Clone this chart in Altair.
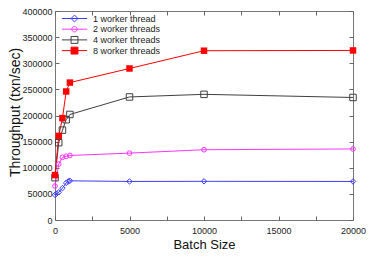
import math
import altair as alt
import pandas as pd

series_names = ["1 worker thread", "2 worker threads", "4 worker threads", "8 worker threads"]
series_colors = ["#3d3dff", "#ff33ff", "#404040", "#ff0000"]

b1 = [1, 100, 250, 500, 750, 900, 1000, 5000, 10000, 20000]
t1 = [48000, 50500, 53000, 61000, 71000, 74000, 75000, 73800, 74000, 73800]
b2 = [1, 250, 500, 750, 1000, 5000, 10000, 20000]
t2 = [65000, 107000, 120000, 122000, 123500, 128000, 134500, 136000]
b4 = [1, 250, 500, 750, 1000, 5000, 10000, 20000]
t4 = [81000, 148000, 172000, 192000, 202000, 235500, 240500, 234500]
b8 = [1, 250, 500, 750, 1000, 5000, 10000, 20000]
t8 = [86000, 161000, 195000, 246000, 263000, 290000, 324000, 324500]

x_label_values = [0, 5000, 10000, 15000, 20000]
x_tick_values = [0, 2500, 5000, 7500, 10000, 12500, 15000, 17500, 20000]
y_tick_values = [0, 50000, 100000, 150000, 200000, 250000, 300000, 350000, 400000]

rows = []
for name, bs, ts in zip(series_names, [b1, b2, b4, b8], [t1, t2, t4, t8]):
    for b, t in zip(bs, ts):
        rows.append({"series": name, "batch": b, "tput": t})
df = pd.DataFrame(rows)

FONT = "Liberation Sans"
W, H = 298, 209


# legend symbols: a short line with the marker in the middle.
# Hollow markers are drawn as separate zero-area segments so that the
# legend's fill does not fill them; the red square is a closed (filled) square.
def segs(pts):
    out = []
    for i in range(len(pts)):
        a, b = pts[i], pts[(i + 1) % len(pts)]
        out.append("M%.3f,%.3fL%.3f,%.3f" % (a[0], a[1], b[0], b[1]))
    return "".join(out)


LINE = "M-4.2,0L4.2,0"
diamond_pts = [(0, -1.15), (1.15, 0), (0, 1.15), (-1.15, 0)]
square_pts = [(-1.15, -1.15), (1.15, -1.15), (1.15, 1.15), (-1.15, 1.15)]
circle_pts = [(0.9 * math.cos(k * math.pi / 8), 0.9 * math.sin(k * math.pi / 8)) for k in range(16)]

legend_paths = [
    LINE + segs(diamond_pts),
    LINE + segs(circle_pts),
    LINE + segs(square_pts),
    LINE + "M-1.15,-1.15L1.15,-1.15L1.15,1.15L-1.15,1.15Z",
]
legend_fills = ["rgba(255,255,255,0)", "rgba(255,255,255,0)", "rgba(255,255,255,0)", "#ff0000"]

xscale = alt.Scale(domain=[0, 20000], nice=False, zero=False)
yscale = alt.Scale(domain=[0, 400000], nice=False)
cscale = alt.Scale(domain=series_names, range=series_colors)

base = alt.Chart(df)

main_x = alt.Axis(orient="bottom", values=x_label_values, format="d", title="Batch Size",
                  ticks=False, domain=False, grid=False, labelFlush=False, labelOverlap=False,
                  labelPadding=6, titleY=28, titleBaseline="alphabetic", titleFontSize=13)
main_y = alt.Axis(orient="left", values=y_tick_values, format="d", title="Throughput (txn/sec)",
                  ticks=False, domain=False, grid=False, labelPadding=3, labelOverlap=False,
                  titleX=-40, titleY=101, titleBaseline="middle", titleFontSize=14)

top_ticks = alt.Axis(orient="bottom", offset=-H, values=x_tick_values, labels=False, title=None,
                     domain=False, grid=False, tickSize=4)
bottom_ticks = alt.Axis(orient="top", offset=-H, values=x_tick_values, labels=False, title=None,
                        domain=False, grid=False, tickSize=4)
left_ticks = alt.Axis(orient="right", offset=-W, values=y_tick_values, labels=False, title=None,
                      domain=False, grid=False, tickSize=4)
right_ticks = alt.Axis(orient="left", offset=-W, values=y_tick_values, labels=False, title=None,
                       domain=False, grid=False, tickSize=4)


def leg():
    return alt.Legend(title=None, orient="none", legendX=15, legendY=3, padding=0,
                      symbolSize=36, symbolStrokeWidth=1, symbolOpacity=1,
                      symbolFillColor="transparent",
                      labelFont=FONT, labelFontSize=9, labelColor="#222222",
                      labelOffset=14, rowPadding=-0.3)


# invisible layer that only carries the legend (line + marker samples)
legend_layer = base.mark_point(opacity=0, filled=False).encode(
    x=alt.X("batch:Q", scale=xscale, axis=top_ticks),
    y=alt.Y("tput:Q", scale=yscale, axis=right_ticks),
    color=alt.Color("series:N", scale=cscale, legend=leg()),
    shape=alt.Shape("series:N", scale=alt.Scale(domain=series_names, range=legend_paths),
                    legend=leg()),
    fill=alt.Fill("series:N", scale=alt.Scale(domain=series_names, range=legend_fills),
                  legend=leg()),
)

lines = base.mark_line(strokeWidth=1).encode(
    x=alt.X("batch:Q", scale=xscale, axis=main_x),
    y=alt.Y("tput:Q", scale=yscale, axis=main_y),
    color=alt.Color("series:N", scale=cscale, legend=None),
    detail="series:N",
)


def pts(name, shape, size, filled, xaxis=None, yaxis=None):
    return base.transform_filter(alt.datum.series == name).mark_point(
        shape=shape, size=size, filled=filled, opacity=1, strokeWidth=1
    ).encode(
        x=alt.X("batch:Q", scale=xscale, axis=xaxis),
        y=alt.Y("tput:Q", scale=yscale, axis=yaxis),
        color=alt.Color("series:N", scale=cscale, legend=None),
    )


p1 = pts(series_names[0], "diamond", 30, False, bottom_ticks, left_ticks)
p2 = pts(series_names[1], "circle", 22, False)
p4 = pts(series_names[2], "square", 42, False)
p8 = pts(series_names[3], "square", 42, True)

chart = alt.layer(legend_layer, lines, p1, p2, p4, p8).resolve_axis(
    x="independent", y="independent"
).properties(
    width=W, height=H,
    autosize=alt.AutoSizeParams(type="none"),
    padding={"left": 47, "top": 3, "right": 13, "bottom": 30},
).configure_view(
    stroke="#777777", strokeWidth=1
).configure_axis(
    labelFont=FONT, labelFontSize=9, labelColor="#222222",
    titleFont=FONT, titleFontWeight="normal", titleColor="#111111",
    tickColor="#666666", tickWidth=1,
)

chart.save("out.html", embed_options={"renderer": "svg", "actions": False})
